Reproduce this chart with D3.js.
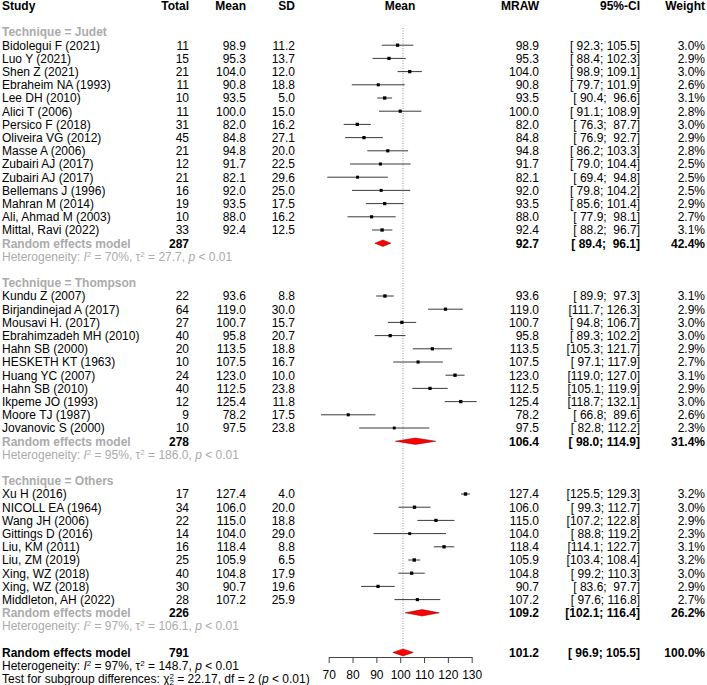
<!DOCTYPE html>
<html><head><meta charset="utf-8">
<script src="https://cdn.jsdelivr.net/npm/d3@7"></script>
<style>
body{margin:0;background:#fff;}
text{font-family:"Liberation Sans",Arial,sans-serif;font-size:12px;white-space:pre;}
</style></head>
<body><svg id="c" width="707" height="685"></svg>
<script>
// ---- data ----
const groupNames = ["Technique = Judet", "Technique = Thompson", "Technique = Others"];
const studyGroup = [0,0,0,0,0,0,0,0,0,0,0,0,0,0,0, 1,1,1,1,1,1,1,1,1,1,1, 2,2,2,2,2,2,2,2,2];
const studyNames = ["Bidolegui F (2021)","Luo Y (2021)","Shen Z (2021)","Ebraheim NA (1993)","Lee DH (2010)","Alici T (2006)","Persico F (2018)","Oliveira VG (2012)","Masse A (2006)","Zubairi AJ (2017)","Zubairi AJ (2017)","Bellemans J (1996)","Mahran M (2014)","Ali, Ahmad M (2003)","Mittal, Ravi (2022)",
  "Kundu Z (2007)","Birjandinejad A (2017)","Mousavi H. (2017)","Ebrahimzadeh MH (2010)","Hahn SB (2000)","HESKETH KT (1963)","Huang YC (2007)","Hahn SB (2010)","Ikpeme JO (1993)","Moore TJ (1987)","Jovanovic S (2000)",
  "Xu H (2016)","NICOLL EA (1964)","Wang JH (2006)","Gittings D (2016)","Liu, KM (2011)","Liu, ZM (2019)","Xing, WZ (2018)","Xing, WZ (2018)","Middleton, AH (2022)"];
const totals = [11,15,21,11,10,11,31,45,21,12,21,16,19,10,33, 22,64,27,40,20,10,24,40,12,9,10, 17,34,22,14,16,25,40,30,28];
const means = [98.9,95.3,104.0,90.8,93.5,100.0,82.0,84.8,94.8,91.7,82.1,92.0,93.5,88.0,92.4, 93.6,119.0,100.7,95.8,113.5,107.5,123.0,112.5,125.4,78.2,97.5, 127.4,106.0,115.0,104.0,118.4,105.9,104.8,90.7,107.2];
const sds = [11.2,13.7,12.0,18.8,5.0,15.0,16.2,27.1,20.0,22.5,29.6,25.0,17.5,16.2,12.5, 8.8,30.0,15.7,20.7,18.8,16.7,10.0,23.8,11.8,17.5,23.8, 4.0,20.0,18.8,29.0,8.8,6.5,17.9,19.6,25.9];
const lowers = [92.3,88.4,98.9,79.7,90.4,91.1,76.3,76.9,86.2,79.0,69.4,79.8,85.6,77.9,88.2, 89.9,111.7,94.8,89.3,105.3,97.1,119.0,105.1,118.7,66.8,82.8, 125.5,99.3,107.2,88.8,114.1,103.4,99.2,83.6,97.6];
const uppers = [105.5,102.3,109.1,101.9,96.6,108.9,87.7,92.7,103.3,104.4,94.8,104.2,101.4,98.1,96.7, 97.3,126.3,106.7,102.2,121.7,117.9,127.0,119.9,132.1,89.6,112.2, 129.3,112.7,122.8,119.2,122.7,108.4,110.3,97.7,116.8];
const weights = [3.0,2.9,3.0,2.6,3.1,2.8,3.0,2.9,2.8,2.5,2.5,2.5,2.9,2.7,3.1, 3.1,2.9,3.0,3.0,2.9,2.7,3.1,2.9,3.0,2.6,2.3, 3.2,3.0,2.9,2.3,3.1,3.2,3.0,2.9,2.7];
// subgroup random effects
const subTotals = [287,278,226];
const subMeans = [92.7,106.4,109.2];
const subLowers = [89.4,98.0,102.1];
const subUppers = [96.1,114.9,116.4];
const subWeights = [42.4,31.4,26.2];
const subI2 = ["70%","95%","97%"];
const subTau2 = ["27.7","186.0","106.1"];
// overall
const overall = {total:791, mean:101.2, lower:96.9, upper:105.5, weight:100.0, i2:"97%", tau2:"148.7"};
const testSub = {chi2:"22.17", df:2, p:"0.01"};
const xTicks = [70,80,90,100,110,120,130];

// ---- layout ----
const svg = d3.select("#c");
const rowH = 13.2, row0 = 32;
const rowY = i => row0 + rowH*i;
const x = d3.scaleLinear().domain([70,130]).range([328.7,471.7]);
const colX = {study:2, total:189, mean:246, sd:295, plot:400, mraw:539, ci:640, weight:705};
const GRAY = "#ababab";
const fmt1 = v => v.toFixed(1);
const pad5 = s => (" ".repeat(Math.max(0,5-s.length)))+s;
const ciStr = (l,u) => "[" + pad5(fmt1(l)) + "; " + pad5(fmt1(u)) + "]";

function txt(xp, yc, s, opts={}) {
  return svg.append("text").attr("x", xp).attr("y", yc+4.3)
    .attr("text-anchor", opts.anchor||"start")
    .attr("font-weight", opts.bold?"bold":"normal")
    .attr("fill", opts.fill||"#000").text(s);
}

// header
const hy = rowY(-2);
txt(colX.study, hy, "Study", {bold:true});
txt(colX.total, hy, "Total", {bold:true, anchor:"end"});
txt(colX.mean, hy, "Mean", {bold:true, anchor:"end"});
txt(colX.sd, hy, "SD", {bold:true, anchor:"end"});
txt(colX.plot, hy, "Mean", {bold:true, anchor:"middle"});
txt(colX.mraw, hy, "MRAW", {bold:true, anchor:"end"});
txt(colX.ci, hy, "95%-CI", {bold:true, anchor:"end"});
txt(colX.weight, hy, "Weight", {bold:true, anchor:"end"});

// heterogeneity rich text
function hetText(yc, i2, tau2, fill) {
  const t = svg.append("text").attr("x", colX.study).attr("y", yc+4.3).attr("fill", fill);
  t.append("tspan").text("Heterogeneity: ");
  t.append("tspan").attr("font-style","italic").text("I");
  t.append("tspan").attr("dy",-4).attr("font-size","8px").text("2");
  t.append("tspan").attr("dy",4).text(" = " + i2 + ", τ");
  t.append("tspan").attr("dy",-4).attr("font-size","8px").text("2");
  t.append("tspan").attr("dy",4).text(" = " + tau2 + ", ");
  t.append("tspan").attr("font-style","italic").text("p");
  t.append("tspan").text(" < 0.01");
}

function diamond(yc, m, l, u, h) {
  const pts = [[x(l),yc],[x(m),yc-h],[x(u),yc],[x(m),yc+h]];
  svg.append("path").attr("d", d3.line()(pts)+"Z")
    .attr("fill","#ff0000").attr("stroke","#7a0000").attr("stroke-width",0.5);
}

// reference dotted line at overall effect
svg.append("line").attr("x1",x(overall.mean)).attr("x2",x(overall.mean))
  .attr("y1", rowY(0)-4).attr("y2", rowY(47)-4)
  .attr("stroke","#9a9a9a").attr("stroke-width",1).attr("stroke-dasharray","1,1.5");

// groups
let r = 0;
groupNames.forEach((g, gi) => {
  txt(colX.study, rowY(r), g, {bold:true, fill:GRAY});
  r++;
  studyNames.forEach((name, i) => {
    if (studyGroup[i] !== gi) return;
    const yc = rowY(r);
    txt(colX.study, yc, name);
    txt(colX.total, yc, String(totals[i]), {anchor:"end"});
    txt(colX.mean, yc, fmt1(means[i]), {anchor:"end"});
    txt(colX.sd, yc, fmt1(sds[i]), {anchor:"end"});
    txt(colX.mraw, yc, fmt1(means[i]), {anchor:"end"});
    txt(colX.ci, yc, ciStr(lowers[i], uppers[i]), {anchor:"end"});
    txt(colX.weight, yc, fmt1(weights[i])+"%", {anchor:"end"});
    svg.append("line").attr("x1",x(lowers[i])).attr("x2",x(uppers[i]))
      .attr("y1",yc).attr("y2",yc).attr("stroke","#3a3a3a").attr("stroke-width",1);
    const s = 1.9*Math.sqrt(weights[i]);
    svg.append("rect").attr("x",x(means[i])-s/2).attr("y",yc-s/2)
      .attr("width",s).attr("height",s).attr("fill","#000");
    r++;
  });
  const yc = rowY(r);
  txt(colX.study, yc, "Random effects model", {bold:true, fill:GRAY});
  txt(colX.total, yc, String(subTotals[gi]), {bold:true, anchor:"end"});
  txt(colX.mraw, yc, fmt1(subMeans[gi]), {bold:true, anchor:"end"});
  txt(colX.ci, yc, ciStr(subLowers[gi], subUppers[gi]), {bold:true, anchor:"end"});
  txt(colX.weight, yc, fmt1(subWeights[gi])+"%", {bold:true, anchor:"end"});
  diamond(yc, subMeans[gi], subLowers[gi], subUppers[gi], 3.2);
  r++;
  hetText(rowY(r), subI2[gi], subTau2[gi], GRAY);
  r += 2;
});

// overall
const oy = rowY(r);
txt(colX.study, oy, "Random effects model", {bold:true});
txt(colX.total, oy, String(overall.total), {bold:true, anchor:"end"});
txt(colX.mraw, oy, fmt1(overall.mean), {bold:true, anchor:"end"});
txt(colX.ci, oy, ciStr(overall.lower, overall.upper), {bold:true, anchor:"end"});
txt(colX.weight, oy, fmt1(overall.weight)+"%", {bold:true, anchor:"end"});
diamond(oy, overall.mean, overall.lower, overall.upper, 3.5);
r++;
hetText(rowY(r), overall.i2, overall.tau2, "#000");
r++;
{
  const t = svg.append("text").attr("x", colX.study).attr("y", rowY(r)+3.8).attr("fill","#000");
  t.append("tspan").text("Test for subgroup differences: χ");
  t.append("tspan").attr("dy",-4).attr("font-size","8px").text("2");
  t.append("tspan").attr("dx",-4.5).attr("dy",6).attr("font-size","8px").text("2");
  t.append("tspan").attr("dy",-2).text(" = " + testSub.chi2 + ", df = " + testSub.df + " (");
  t.append("tspan").attr("font-style","italic").text("p");
  t.append("tspan").text(" < " + testSub.p + ")");
}

// axis
const axis = d3.axisBottom(x).tickValues(xTicks).tickSize(6).tickSizeOuter(0).tickPadding(7).tickFormat(d3.format("d"));
const ag = svg.append("g").attr("transform","translate(0,657)").call(axis);
ag.selectAll("path,line").attr("stroke","#444");
ag.selectAll("text").attr("fill","#000").style("font-size","12px").style("font-family","'Liberation Sans',Arial,sans-serif");
</script></body></html>
